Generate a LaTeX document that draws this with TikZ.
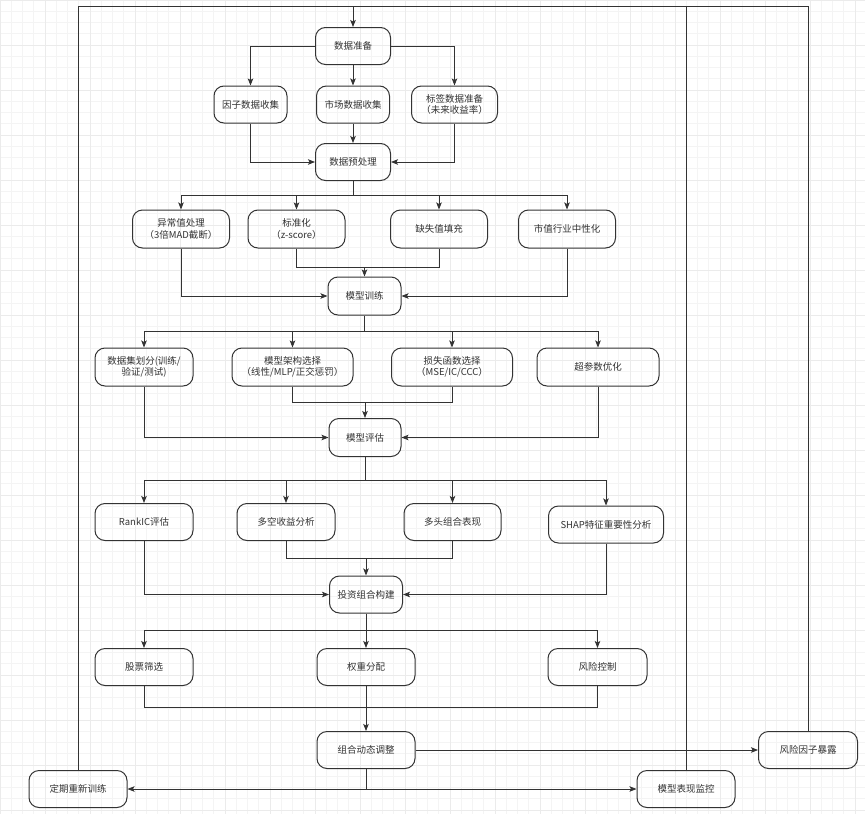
\documentclass[tikz,border=0pt]{standalone}
\usepackage{fontspec}
\setmainfont{Noto Sans CJK SC}
\usepackage{xcolor}
\definecolor{colorLine}{HTML}{333333}
\definecolor{colorGrid}{HTML}{F4F4F4}
\definecolor{colorGridMajor}{HTML}{EBEBEB}
\usetikzlibrary{arrows.meta}
\tikzset{stage/.style={draw=colorLine, line width=1pt, rounded corners=10pt, minimum height=37pt, minimum width=98pt, align=center, inner sep=1pt, font=\fontsize{9.5}{11.5}\selectfont}}

\begin{document}
\begin{tikzpicture}[>={Stealth[length=7pt, width=5.5pt, inset=1.5pt]}, x=1pt, y=-1pt, colorLine, line width=0.8pt]
\fill[white] (0,0) rectangle (865,814);
\useasboundingbox (0,0) rectangle (865,814);
\draw[colorGrid, line width=0.6pt, step=11.25pt] (0,814) grid (865,0);
\draw[colorGridMajor, line width=0.8pt, step=45pt] (0,814) grid (865,0);
\node[stage, minimum width=75pt] (prep) at (353,46) {数据准备};
\node[stage, minimum width=73pt] (factor) at (250.5,104.5) {因子数据收集};
\node[stage, minimum width=73pt] (market) at (353,104.5) {市场数据收集};
\node[stage, minimum width=86pt] (label) at (454.5,104.5) {标签数据准备\\（未来收益率）};
\node[stage, minimum width=75pt] (clean) at (353,162) {数据预处理};
\node[stage, minimum width=97pt, minimum height=38pt] (outlier) at (181,229) {异常值处理\\（3倍MAD截断）};
\node[stage, minimum width=97pt, minimum height=38pt] (std) at (296.5,229) {标准化\\（z-score）};
\node[stage, minimum width=97pt, minimum height=38pt] (missing) at (439,229) {缺失值填充};
\node[stage, minimum width=97pt, minimum height=38pt] (neutral) at (567,229) {市值行业中性化};
\node[stage, minimum width=73pt, minimum height=38pt] (train) at (364.5,296) {模型训练};
\node[stage, minimum height=38pt] (split) at (144,367) {数据集划分(训练/\\验证/测试)};
\node[stage, minimum width=121pt, minimum height=38pt] (arch) at (292.5,367) {模型架构选择\\（线性/MLP/正交惩罚）};
\node[stage, minimum width=121pt, minimum height=38pt] (loss) at (452,367) {损失函数选择\\（MSE/IC/CCC）};
\node[stage, minimum width=122pt, minimum height=38pt] (hyper) at (598,367) {超参数优化};
\node[stage, minimum width=72pt, minimum height=38pt] (eval) at (365,437.5) {模型评估};
\node[stage] (rankic) at (144,522) {RankIC评估};
\node[stage] (ls) at (286,522) {多空收益分析};
\node[stage, minimum width=97pt] (longonly) at (452.5,522) {多头组合表现};
\node[stage, minimum width=115pt] (shap) at (606,524.5) {SHAP特征重要性分析};
\node[stage, minimum width=73pt] (port) at (366,594.5) {投资组合构建};
\node[stage] (select) at (144,667) {股票筛选};
\node[stage] (weight) at (366,667) {权重分配};
\node[stage, minimum width=99pt] (risk) at (597.5,667) {风险控制};
\node[stage] (adjust) at (366,750) {组合动态调整};
\node[stage, minimum width=99pt] (expo) at (808,750) {风险因子暴露};
\node[stage] (retrain) at (78,789) {定期重新训练};
\node[stage] (monitor) at (686,789) {模型表现监控};
% bus heights
\coordinate (top) at (0,6);
\coordinate (b1) at (0,195);
\coordinate (j1) at (0,267);
\coordinate (b2) at (0,331.5);
\coordinate (j2) at (0,402);
\coordinate (b3) at (0,480);
\coordinate (j3) at (0,558);
\coordinate (b4) at (0,630.5);
\coordinate (j4) at (0,707.5);
\coordinate (b5) at (0,789);
% feedback to the start
\draw (retrain.north) |- (expo.north |- top) -- (expo.north);
\draw (monitor.north) -- (monitor.north |- top);
\draw[->] (prep.north |- top) -- (prep.north);
% data
\draw[->] (prep.west) -| (factor.north);
\draw[->] (prep.south) -- (market.north);
\draw[->] (prep.east) -| (label.north);
\draw[->] (factor.south) |- (clean.west);
\draw[->] (market.south) -- (clean.north);
\draw[->] (label.south) |- (clean.east);
% preprocessing
\draw (clean.south) -- (clean.south |- b1);
\draw[->] (clean.south |- b1) -| (outlier.north);
\draw[->] (clean.south |- b1) -| (std.north);
\draw[->] (clean.south |- b1) -| (missing.north);
\draw[->] (clean.south |- b1) -| (neutral.north);
\draw[->] (outlier.south) |- (train.west);
\draw[->] (neutral.south) |- (train.east);
\draw (std.south) |- (missing.south |- j1) -- (missing.south);
\draw[->] (train.north |- j1) -- (train.north);
% training
\draw (train.south) -- (train.south |- b2);
\draw[->] (train.south |- b2) -| (split.north);
\draw[->] (train.south |- b2) -| (arch.north);
\draw[->] (train.south |- b2) -| (loss.north);
\draw[->] (train.south |- b2) -| (hyper.north);
\draw[->] (split.south) |- (eval.west);
\draw[->] (hyper.south) |- (eval.east);
\draw (arch.south) |- (loss.south |- j2) -- (loss.south);
\draw[->] (eval.north |- j2) -- (eval.north);
% evaluation
\draw (eval.south) -- (eval.south |- b3);
\draw[->] (eval.south |- b3) -| (rankic.north);
\draw[->] (eval.south |- b3) -| (ls.north);
\draw[->] (eval.south |- b3) -| (longonly.north);
\draw[->] (eval.south |- b3) -| (shap.north);
\draw[->] (rankic.south) |- (port.west);
\draw[->] (shap.south) |- (port.east);
\draw (ls.south) |- (longonly.south |- j3) -- (longonly.south);
\draw[->] (port.north |- j3) -- (port.north);
% portfolio
\draw (port.south) -- (port.south |- b4);
\draw[->] (port.south |- b4) -| (select.north);
\draw[->] (port.south |- b4) -- (weight.north);
\draw[->] (port.south |- b4) -| (risk.north);
\draw (select.south) |- (risk.south |- j4) -- (risk.south);
\draw[->] (weight.south) -- (adjust.north);
\draw[->] (adjust.east) -- (expo.west);
\draw (adjust.south) -- (adjust.south |- b5);
\draw[->] (adjust.south |- b5) -- (retrain.east);
\draw[->] (adjust.south |- b5) -- (monitor.west);
\end{tikzpicture}
\end{document}
